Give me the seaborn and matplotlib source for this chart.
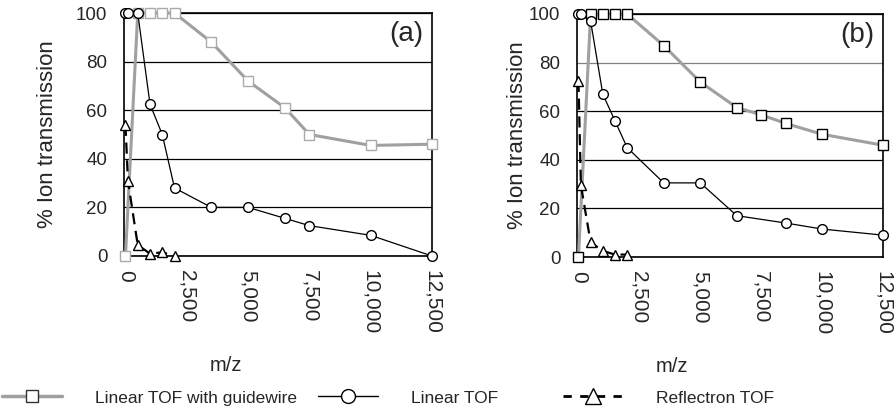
import numpy as np
import pandas as pd
import matplotlib
matplotlib.use("Agg")
import matplotlib.pyplot as plt
import seaborn as sns
from matplotlib.lines import Line2D

# data
sq_x_a = [0, 500, 1000, 1500, 2000, 3500, 5000, 6500, 7500, 10000, 12500]
sq_y_a = [0, 100, 100, 100, 100, 88, 72, 61, 50, 45.5, 46]
circ_x_a = [0, 100, 500, 1000, 1500, 2000, 3500, 5000, 6500, 7500, 10000, 12500]
circ_y_a = [100, 100, 100, 62.5, 50, 28, 20, 20, 15.5, 12.5, 8.5, 0]
tri_x_a = [0, 100, 500, 1000, 1500, 2000]
tri_y_a = [54, 31, 4.5, 1, 1.5, 0]

sq_x_b = [0, 500, 1000, 1500, 2000, 3500, 5000, 6500, 7500, 8500, 10000, 12500]
sq_y_b = [0, 100, 100, 100, 100, 87, 72, 61.5, 58.5, 55, 50.5, 46]
circ_x_b = [0, 100, 500, 1000, 1500, 2000, 3500, 5000, 6500, 8500, 10000, 12500]
circ_y_b = [100, 100, 97, 67, 56, 45, 30.5, 30.5, 17, 14, 11.5, 9]
tri_x_b = [0, 100, 500, 1000, 1500, 2000]
tri_y_b = [72.5, 29.5, 6, 2.5, 1, 1]

x_ticks = [0, 2500, 5000, 7500, 10000, 12500]
x_tick_labels = ["0", "2,500", "5,000", "7,500", "10,000", "12,500"]
y_ticks = [0, 20, 40, 60, 80, 100]
series_names = ["Linear TOF with guidewire", "Linear TOF", "Reflectron TOF"]

sns.set_style("white")
plt.rcParams['font.family'] = ['Liberation Sans', 'DejaVu Sans']

fig = plt.figure(figsize=(8.94, 4.13), dpi=100)
W, H = 894, 413


def px_axes(left, top, right, bottom):
    return fig.add_axes([left / W, 1 - bottom / H, (right - left) / W, (bottom - top) / H])


def panel(ax, sx, sy, cx, cy, tx, ty, sq_edge, tag, ylab_x, xlab_x):
    sns.lineplot(x=sx, y=sy, ax=ax, color="#a0a0a0", lw=2.2, marker="s", ms=6.5,
                 markerfacecolor="white", markeredgecolor=sq_edge, markeredgewidth=1,
                 errorbar=None, clip_on=False, zorder=3)
    sns.lineplot(x=cx, y=cy, ax=ax, color="black", lw=0.9, marker="o", ms=7,
                 markerfacecolor="white", markeredgecolor="black", markeredgewidth=1,
                 errorbar=None, clip_on=False, zorder=4)
    sns.lineplot(x=tx, y=ty, ax=ax, color="black", lw=1.6, linestyle=(0, (5, 3)),
                 marker="^", ms=7.5, markerfacecolor="white", markeredgecolor="black",
                 markeredgewidth=1, errorbar=None, clip_on=False, zorder=5)
    ax.set_xlim(-60, 12500)
    ax.set_ylim(0, 100)
    ax.set_xticks(x_ticks)
    ax.set_xticklabels(x_tick_labels, rotation=-90, fontsize=15)
    ax.set_yticks(y_ticks)
    ax.tick_params(axis="y", length=0, pad=12, labelsize=13.5)
    ax.tick_params(axis="x", length=4, width=1, color="black", direction="out", pad=6)
    for lbl in ax.get_xticklabels():
        lbl.set_va("top")
    ax.grid(axis="y", color="black", lw=0.9)
    ax.set_axisbelow(True)
    for s in ax.spines.values():
        s.set_visible(True)
        s.set_color("black")
        s.set_linewidth(1.2)
    ax.set_ylabel("% Ion transmission", fontsize=16)
    ax.yaxis.set_label_coords(ylab_x, 0.5)
    ax.set_xlabel("m/z", fontsize=14.5)
    ax.xaxis.set_label_coords(xlab_x, -0.41)
    ax.text(0.915, 0.915, tag, transform=ax.transAxes, fontsize=20,
            ha="center", va="center")


ax_a = px_axes(124, 13, 432, 256)
ax_b = px_axes(577, 14, 883, 257)

panel(ax_a, sq_x_a, sq_y_a, circ_x_a, circ_y_a, tri_x_a, tri_y_a,
      "#aaaaaa", "(a)", -0.214, 0.33)
panel(ax_b, sq_x_b, sq_y_b, circ_x_b, circ_y_b, tri_x_b, tri_y_b,
      "black", "(b)", -0.16, 0.31)

# the 80 % line in panel (b) is drawn lighter
ax_b.get_ygridlines()[4].set_color("#808080")

# legend, one entry per block
handles = [
    Line2D([], [], color="#a0a0a0", lw=2.5, marker="s", ms=9,
           markerfacecolor="white", markeredgecolor="#333333"),
    Line2D([], [], color="black", lw=1, marker="o", ms=10,
           markerfacecolor="white", markeredgecolor="black"),
    Line2D([], [], color="black", lw=2, linestyle=(0, (3, 3)), marker="^", ms=11,
           markerfacecolor="white", markeredgecolor="black"),
]
leg_x = [2, 318, 563]
for h, name, lx in zip(handles, series_names, leg_x):
    fig.legend([h], [name], loc="center left", bbox_to_anchor=(lx / W, 1 - 398 / H),
               frameon=False, fontsize=12.5, handlelength=3.45, handletextpad=1.9,
               borderpad=0, borderaxespad=0)

fig.savefig("out.png", dpi=100)
